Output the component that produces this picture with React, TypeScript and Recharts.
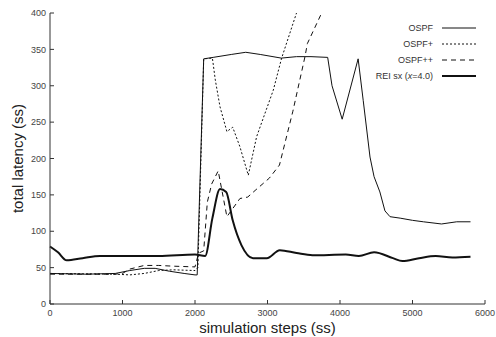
import React from 'react';
import { LineChart, Line, XAxis, YAxis, Legend } from 'recharts';

const xTicks = [0, 1000, 2000, 3000, 4000, 5000, 6000];
const yTicks = [0, 50, 100, 150, 200, 250, 300, 350, 400];

const ospfSteps = [0, 500, 900, 1100, 1300, 1450, 1650, 1850, 2000, 2030, 2120, 2250, 2500, 2700, 2900, 3190, 3400, 3600, 3830, 3890, 4030, 4250, 4320, 4414, 4470, 4550, 4620, 4690, 4830, 5000, 5150, 5400, 5610, 5800];
const ospfLatency = [42, 41, 42, 46, 49, 49, 45, 42, 40, 40, 337, 339, 343, 346, 343, 338, 340, 340, 339, 300, 254, 337, 280, 202, 175, 154, 128, 120, 118, 115, 113, 110, 113, 113];

const ospfPlusSteps = [0, 900, 1100, 1300, 1500, 1700, 2000, 2040, 2120, 2240, 2280, 2345, 2440, 2520, 2620, 2735, 2850, 3080, 3195, 3400, 3500];
const ospfPlusLatency = [42, 41, 40, 42, 46, 47, 46, 50, 337, 338, 308, 271, 237, 243, 216, 177, 230, 294, 338, 400, 430];

const ospfPPSteps = [0, 900, 1000, 1100, 1300, 1500, 1700, 2000, 2050, 2120, 2170, 2230, 2320, 2440, 2620, 2727, 2840, 3025, 3165, 3350, 3517, 3550, 3747, 3800];
const ospfPPLatency = [41, 41, 42, 48, 53, 53, 52, 51, 70, 73, 140, 165, 183, 120, 145, 147, 157, 173, 191, 265, 340, 358, 400, 412];

const reiSteps = [0, 110, 230, 450, 690, 1000, 1500, 2000, 2140, 2240, 2345, 2430, 2520, 2640, 2800, 2990, 3170, 3400, 3620, 4080, 4260, 4470, 4730, 4860, 5090, 5320, 5550, 5800];
const reiLatency = [79, 71, 60, 63, 66, 66, 66, 68, 66, 118, 158, 154, 115, 81, 63, 63, 74, 70, 67, 68, 66, 71, 63, 59, 63, 66, 64, 65];

const zip = (xs: number[], ys: number[]) => xs.map((x, i) => ({ x, y: ys[i] }));

const series = [
  { name: 'OSPF', data: zip(ospfSteps, ospfLatency), width: 1, dash: undefined, curve: 'linear' },
  { name: 'OSPF+', data: zip(ospfPlusSteps, ospfPlusLatency), width: 1, dash: '2 2', curve: 'linear' },
  { name: 'OSPF++', data: zip(ospfPPSteps, ospfPPLatency), width: 1, dash: '5 4', curve: 'linear' },
  { name: 'REI', data: zip(reiSteps, reiLatency), width: 2, dash: undefined, curve: 'monotone' },
];

const font = '"Liberation Sans", Arial, sans-serif';
const axisColor = '#333';
const tickStyle = { fontSize: 9, fill: '#444', fontFamily: font };

const LegendBox = () => (
  <div style={{ fontFamily: font, fontSize: 9, color: '#333' }}>
    {series.map((s) => (
      <div key={s.name} style={{ height: 16, display: 'flex', justifyContent: 'flex-end', alignItems: 'center' }}>
        <span>
          {s.name === 'REI' ? (
            <>REI sx (<i>x</i>=4.0)</>
          ) : (
            s.name
          )}
        </span>
        <svg width={34} height={6} style={{ marginLeft: 9 }}>
          <line x1={0} y1={3} x2={34} y2={3} stroke="#111" strokeWidth={s.width} strokeDasharray={s.dash} />
        </svg>
      </div>
    ))}
  </div>
);

export default function App() {
  return (
    <div style={{ position: 'absolute', left: 0, top: 0, background: '#fff' }}>
      <LineChart width={496} height={337} margin={{ top: 13, right: 11, left: 0, bottom: 0 }}>
        <XAxis
          xAxisId="bottom"
          type="number"
          dataKey="x"
          domain={[0, 6000]}
          ticks={xTicks}
          height={33}
          tickSize={-4}
          tickMargin={10}
          stroke={axisColor}
          tick={tickStyle}
          label={{ value: 'simulation steps (ss)', position: 'insideBottom', offset: 4, style: { fontSize: 15, fill: '#222', fontFamily: font } }}
        />
        <XAxis xAxisId="top" orientation="top" type="number" dataKey="x" domain={[0, 6000]} ticks={xTicks} height={0} tickSize={-4} tick={false} stroke={axisColor} />
        <YAxis
          yAxisId="left"
          type="number"
          domain={[0, 400]}
          ticks={yTicks}
          allowDataOverflow
          width={50}
          tickSize={-4}
          tickMargin={8}
          stroke={axisColor}
          tick={tickStyle}
          label={{ value: 'total latency (ss)', angle: -90, position: 'insideLeft', offset: 18, style: { textAnchor: 'middle', fontSize: 15, fill: '#222', fontFamily: font } }}
        />
        <YAxis yAxisId="right" orientation="right" type="number" domain={[0, 400]} ticks={yTicks} allowDataOverflow width={0} tickSize={-4} tick={false} stroke={axisColor} />
        <Legend
          layout="vertical"
          align="center"
          verticalAlign="middle"
          content={() => <LegendBox />}
          wrapperStyle={{ top: 20, left: 340, width: 136, height: 64 }}
        />
        {series.map((s) => (
          <Line
            key={s.name}
            xAxisId="bottom"
            yAxisId="left"
            data={s.data}
            dataKey="y"
            name={s.name}
            type={s.curve as 'monotone' | 'linear'}
            stroke="#111"
            strokeWidth={s.width}
            strokeDasharray={s.dash}
            dot={false}
            activeDot={false}
            isAnimationActive={false}
          />
        ))}
      </LineChart>
    </div>
  );
}
